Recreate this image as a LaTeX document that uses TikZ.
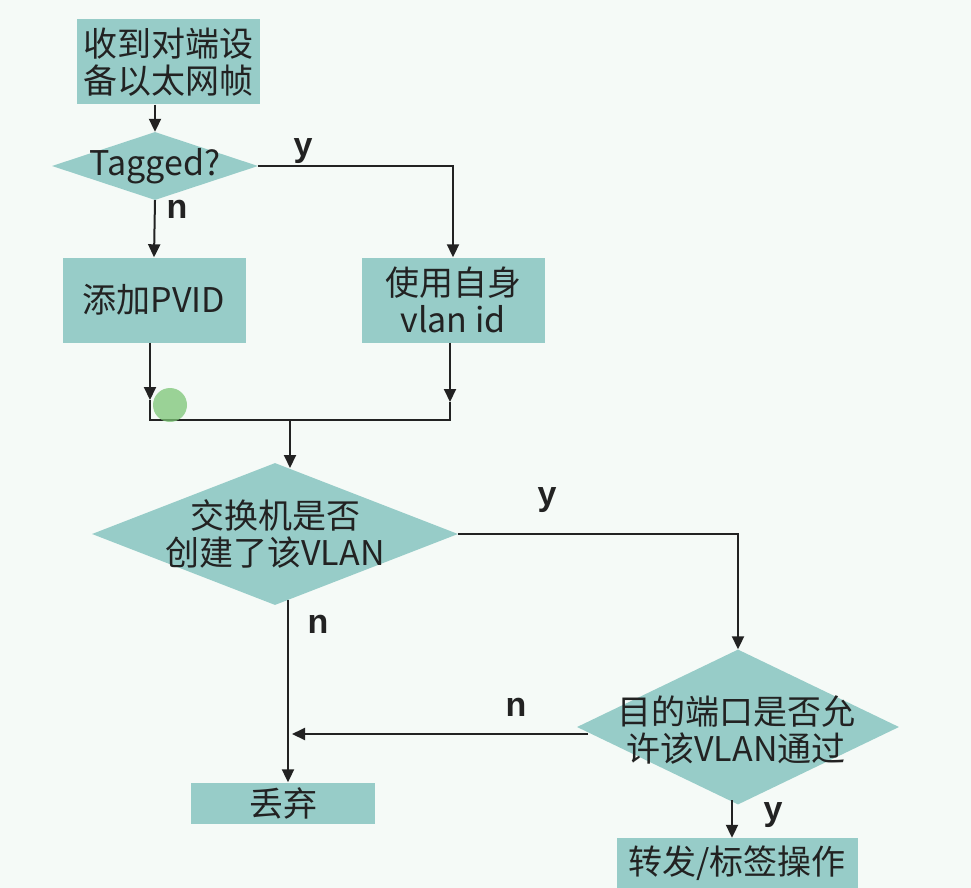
\documentclass[tikz,border=0pt]{standalone}
\usepackage{fontspec}
\setmainfont{Noto Sans CJK SC}
\newfontfamily\labfont{Liberation Sans}
\usetikzlibrary{shapes.geometric,arrows.meta}
\definecolor{bgcol}{HTML}{F5FAF7}
\definecolor{boxfill}{HTML}{97CCC8}
\definecolor{ink}{HTML}{222222}
\definecolor{cursor}{HTML}{7CC576}
\begin{document}
\begin{tikzpicture}[x=1pt,y=-1pt,
  boxnode/.style={rectangle, fill=boxfill, draw=none, inner sep=0pt},
  dianode/.style={diamond, fill=boxfill, draw=none, inner sep=0pt},
  txt/.style={font=\fontsize{34}{37}\selectfont, text=ink, align=center, inner sep=0pt},
  lab/.style={font=\labfont\bfseries\fontsize{34}{36}\selectfont, text=ink, inner sep=0pt},
  conn/.style={draw=ink, line width=2pt},
  arr/.style={conn, -{Triangle[length=13pt,width=12pt]}}]
\fill[bgcol] (0,0) rectangle (971,888);
\useasboundingbox (0,0) rectangle (971,888);

% boxes and diamonds
\node[boxnode, minimum width=183pt, minimum height=85pt] (box1) at (168,62) {};
\node[txt] (t1) at (box1) {收到对端设\\备以太网帧};
\node[dianode, minimum width=206pt, minimum height=68pt] (d1) at (155,166) {};
\node[txt] (td1) at (d1) {Tagged?};
\node[boxnode, minimum width=183pt, minimum height=85pt] (box3) at (154,300) {};
\node[txt] (t3) at (box3) {添加PVID};
\node[boxnode, minimum width=183pt, minimum height=85pt] (box2) at (453,300) {};
\node[txt] (t2) at (box2) {使用自身\\vlan id};
\node[dianode, minimum width=366pt, minimum height=142pt] (d2) at (275,534) {};
\node[txt] (td2) at (d2) {交换机是否\\创建了该VLAN};
\node[boxnode, minimum width=184pt, minimum height=41pt] (drop) at (283,803) {};
\node[txt] (tdrop) at (drop) {丢弃};
\node[dianode, minimum width=322pt, minimum height=155pt] (d3) at (738,727) {};
\node[txt] (td3) at (736,730) {目的端口是否允\\许该VLAN通过};
\node[boxnode, minimum width=241pt, minimum height=50pt] (fwd) at (737,863) {};
\node[txt] (tfwd) at (fwd) {转发/标签操作};

% helper coordinates
\coordinate (al) at (150,400);
\coordinate (ar) at (450,402);
\coordinate (jl) at (150,420);
\coordinate (jr) at (450,420);
\coordinate (j) at (290,420);
\coordinate (d2in) at (290,468);
\coordinate (d2out) at (288,600);
\coordinate (d3w) at (588,734);
\coordinate (m) at (292,734);
\coordinate (d3out) at (732,800);

% connectors
\draw[arr] (box1.south -| d1) -- (d1.north);
\draw[arr] (d1.east) -| (box2.north);
\draw[arr] (d1.south) -- (box3.north);
\draw[arr] (box3.south -| al) -- (al);
\draw[arr] (box2.south -| ar) -- (ar);
\draw[conn] (al) -- (jl) -- (jr) -- (ar);
\draw[arr] (j) -- (d2in);
\draw[arr] (d2.east) -| (d3.north);
\draw[arr] (d2out) -- (drop.north -| d2out);
\draw[arr] (d3w) -- (m);
\draw[arr] (d3out) -- (fwd.north -| d3out);

% labels
\node[lab] (ly1) at (303,151) {y};
\node[lab] (ln1) at (177,209) {n};
\node[lab] (ly2) at (547,500) {y};
\node[lab] (ln2) at (318,624) {n};
\node[lab] (ln3) at (516,707) {n};
\node[lab] (ly3) at (773,815) {y};

% cursor highlight
\fill[cursor, opacity=0.75] (170,405) circle (17);
\end{tikzpicture}
\end{document}
